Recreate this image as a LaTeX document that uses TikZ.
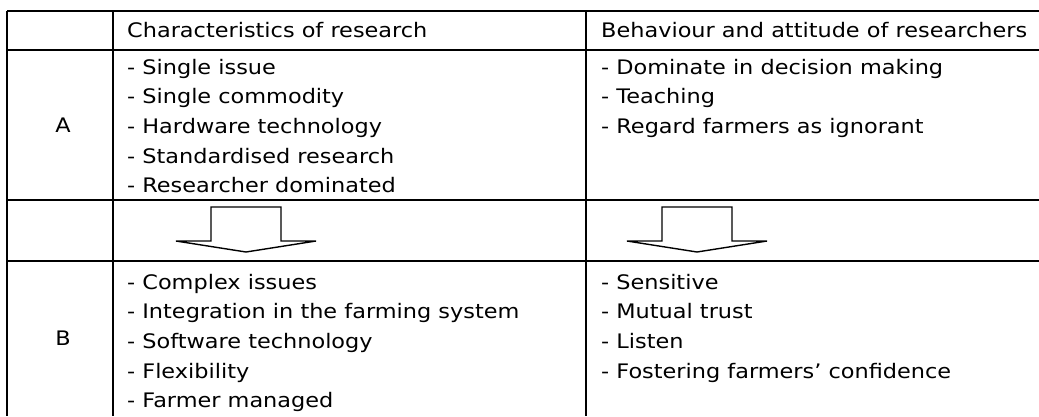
\documentclass[tikz,border=0pt]{standalone}
\usepackage{fontspec}
\setmainfont{DejaVu Sans}[FakeStretch=1.12]
\usetikzlibrary{positioning}

\begin{document}
\begin{tikzpicture}[x=1pt,y=-1pt,
		rule/.style={
			line width=2pt
		},
		txt/.style={
			inner sep=0pt,
			font=\fontsize{20}{24}\selectfont
		},
		item/.style={
			txt,
			anchor=base west
		},
		arro/.style={
			draw,
			line width=1.4pt,
			line join=miter
		}
		]
		\useasboundingbox (0,0) rectangle (1039,416);

		% table rules
		\foreach \y in {11,50,200,261}
			\draw[rule] (7,\y) -- (1039,\y);
		\foreach \x in {7,113,586}
			\draw[rule] (\x,11) -- (\x,416);

		% header
		\node[item] at (127,37) (hres) {Characteristics of research};
		\node[item] at (601,37) (hbeh) {Behaviour and attitude of researchers};

		% row labels
		\node[txt,anchor=base] at (63,132) (A) {A};
		\node[txt,anchor=base] at (63,345) (B) {B};

		% row A
		\foreach \t [count=\i] in {Single issue,Single commodity,Hardware technology,Standardised research,Researcher dominated}
			\node[item] at (127,{74+29.7*(\i-1)}) (resA\i) {- \t};
		\foreach \t [count=\i] in {Dominate in decision making,Teaching,Regard farmers as ignorant}
			\node[item] at (601,{74+29.7*(\i-1)}) (behA\i) {- \t};

		% row B
		\foreach \t [count=\i] in {Complex issues,Integration in the farming system,Software technology,Flexibility,Farmer managed}
			\node[item] at (127,{289+29.7*(\i-1)}) (resB\i) {- \t};
		\foreach \t [count=\i] in {Sensitive,Mutual trust,Listen,Fostering farmers\textquoteright\ confidence}
			\node[item] at (601,{289+29.7*(\i-1)}) (behB\i) {- \t};

		% block arrows
		\foreach \c in {246,697}
			\draw[arro] (\c-35,207) -- (\c+35,207) -- (\c+35,241) -- (\c+70,241)
				-- (\c,252) -- (\c-70,241) -- (\c-35,241) -- cycle;
\end{tikzpicture}
\end{document}
